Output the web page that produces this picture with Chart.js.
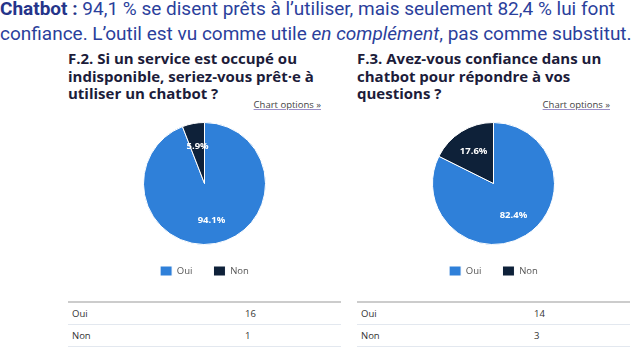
<!DOCTYPE html>
<html>
<head>
<meta charset="utf-8">
<script src="https://cdn.jsdelivr.net/npm/chart.js@4"></script>
<style>
  body { margin: 0; width: 637px; height: 351px; background: #fff; position: relative; overflow: hidden; font-family: "Open Sans", sans-serif; }
  .intro { position: absolute; left: 0; top: -4px; width: 640px; font-family: Roboto, sans-serif; font-size: 19px; line-height: 25px; color: #2b3f9c; white-space: nowrap; }
  .intro b { color: #25348a; }
  .panel { position: absolute; top: 50px; width: 273px; height: 301px; }
  .title { position: absolute; left: 0; top: 0; width: 260px; font-weight: 700; font-size: 15px; line-height: 17.5px; color: #1c1c3a; }
  .opts { position: absolute; right: 20px; top: 48px; font-size: 9.5px; color: #444; text-decoration: underline; text-decoration-color: #9b8fc8; }
  .panel canvas { position: absolute; left: 0; top: 68px; }
  table { position: absolute; left: 0; top: 251px; width: 273px; border-collapse: collapse; font-size: 9.5px; color: #333; }
  td { height: 21px; border-bottom: 1.5px solid #e3e8ef; padding: 0 0 0 4px; }
  tr:first-child td { border-top: 2px solid #ccc; }
  td.v { width: 96px; }
</style>
</head>
<body>
<div class="intro"><b>Chatbot :</b> 94,1 % se disent prêts à l’utiliser, mais seulement 82,4 % lui font<br>confiance. L’outil est vu comme utile <i>en complément</i>, pas comme substitut.</div>

<div class="panel" style="left:68px">
  <div class="title">F.2. Si un service est occupé ou indisponible, seriez-vous prêt·e à utiliser un chatbot ?</div>
  <div class="opts">Chart options »</div>
  <canvas id="c1" width="273" height="168"></canvas>
  <table id="t1"></table>
</div>

<div class="panel" style="left:357px">
  <div class="title">F.3. Avez-vous confiance dans un chatbot pour répondre à vos questions ?</div>
  <div class="opts">Chart options »</div>
  <canvas id="c2" width="273" height="168"></canvas>
  <table id="t2"></table>
</div>

<script>
const labels = ['Oui', 'Non'];
const countsF2 = [16, 1];
const countsF3 = [14, 3];
const colors = ['#2f80d9', '#0e2139'];

// white percentage labels inside the slices
const pctLabels = {
  id: 'pctLabels',
  afterDatasetsDraw(chart) {
    const ctx = chart.ctx;
    const data = chart.data.datasets[0].data;
    const total = data.reduce((a, b) => a + b, 0);
    chart.getDatasetMeta(0).data.forEach((arc, i) => {
      const p = arc.getProps(['x', 'y', 'startAngle', 'endAngle', 'outerRadius']);
      const mid = (p.startAngle + p.endAngle) / 2;
      const r = p.outerRadius * 0.62;
      ctx.save();
      ctx.fillStyle = '#fff';
      ctx.font = 'bold 9.5px "Open Sans"';
      ctx.textAlign = 'center';
      ctx.textBaseline = 'middle';
      ctx.fillText((data[i] / total * 100).toFixed(1) + '%', p.x + Math.cos(mid) * r, p.y + Math.sin(mid) * r);
      ctx.restore();
    });
  }
};

function makePie(id, counts) {
  new Chart(document.getElementById(id), {
    type: 'pie',
    data: {
      labels: labels,
      datasets: [{ data: counts, backgroundColor: colors, borderColor: '#fff', borderWidth: 1 }]
    },
    options: {
      responsive: false,
      animation: false,
      layout: { padding: { top: 4 } },
      plugins: {
        legend: {
          position: 'bottom',
          labels: { boxWidth: 12, boxHeight: 10, padding: 21, color: '#555', font: { size: 9.5, family: 'Open Sans' } }
        },
        tooltip: { enabled: false }
      }
    },
    plugins: [pctLabels]
  });
}

function makeTable(id, counts) {
  const t = document.getElementById(id);
  labels.forEach((l, i) => {
    const row = t.insertRow();
    row.innerHTML = `<td>${l}</td><td class="v">${counts[i]}</td>`;
  });
}

makePie('c1', countsF2);
makePie('c2', countsF3);
makeTable('t1', countsF2);
makeTable('t2', countsF3);
</script>
</body>
</html>
